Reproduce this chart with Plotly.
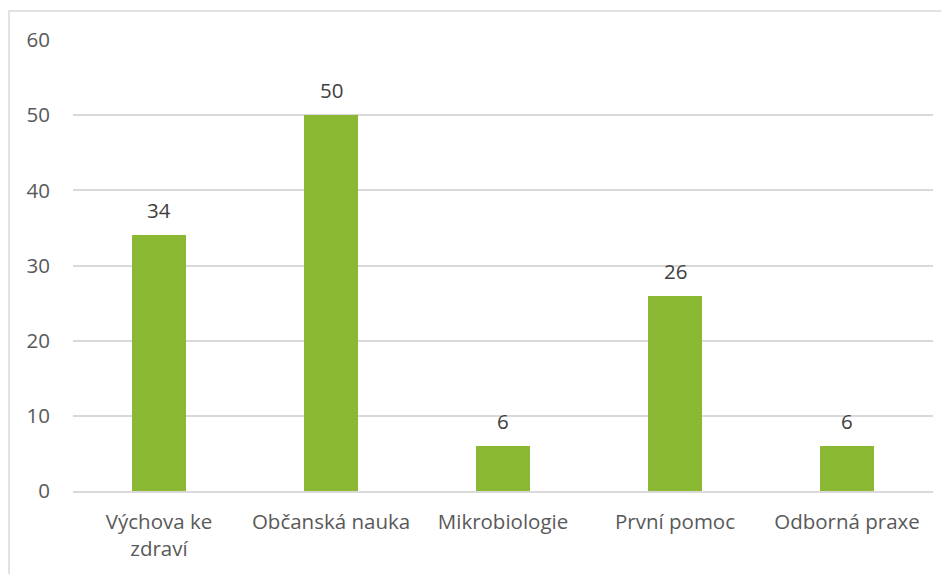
import plotly.graph_objects as go

categories = ["Výchova ke<br>zdraví", "Občanská nauka", "Mikrobiologie", "První pomoc", "Odborná praxe"]
values = [34, 50, 6, 26, 6]

text_color = "#595959"
font_family = "'Open Sans', sans-serif"

fig = go.Figure()
fig.add_trace(go.Bar(
    x=categories,
    y=values,
    marker=dict(color="#8AB833", line=dict(width=0)),
    width=0.314,
    hoverinfo="x+y",
))

for c, v in zip(categories, values):
    fig.add_annotation(
        x=c, y=v, text=str(v), showarrow=False,
        yanchor="bottom", yshift=9,
        font=dict(size=20.5, color="#404040", family=font_family),
    )

# the page adds an 8px body margin, so the figure is sized to fit inside it
fig.update_layout(
    width=941, height=566,
    margin=dict(l=65, r=16, t=32, b=83),
    paper_bgcolor="white",
    plot_bgcolor="white",
    showlegend=False,
    bargap=0,
    font=dict(family=font_family, size=20.5, color=text_color),
    xaxis=dict(
        showgrid=False, showline=True, linecolor="#D9D9D9", linewidth=1.5,
        ticks="", ticklabelstandoff=12, tickfont=dict(size=20.5, color=text_color),
    ),
    yaxis=dict(
        range=[0, 60], dtick=10, showgrid=True, gridcolor="#D9D9D9", gridwidth=1.5,
        zeroline=False, showline=False, ticks="", ticklabelstandoff=22,
        tickfont=dict(size=20.5, color=text_color),
    ),
    shapes=[dict(
        type="rect", xref="paper", yref="paper",
        x0=-0.0744, x1=1.2, y0=-0.3, y1=1.0643,
        line=dict(color="#D9D9D9", width=1.5), fillcolor="rgba(0,0,0,0)",
        layer="below",
    )],
)

fig.write_html("out.html")
